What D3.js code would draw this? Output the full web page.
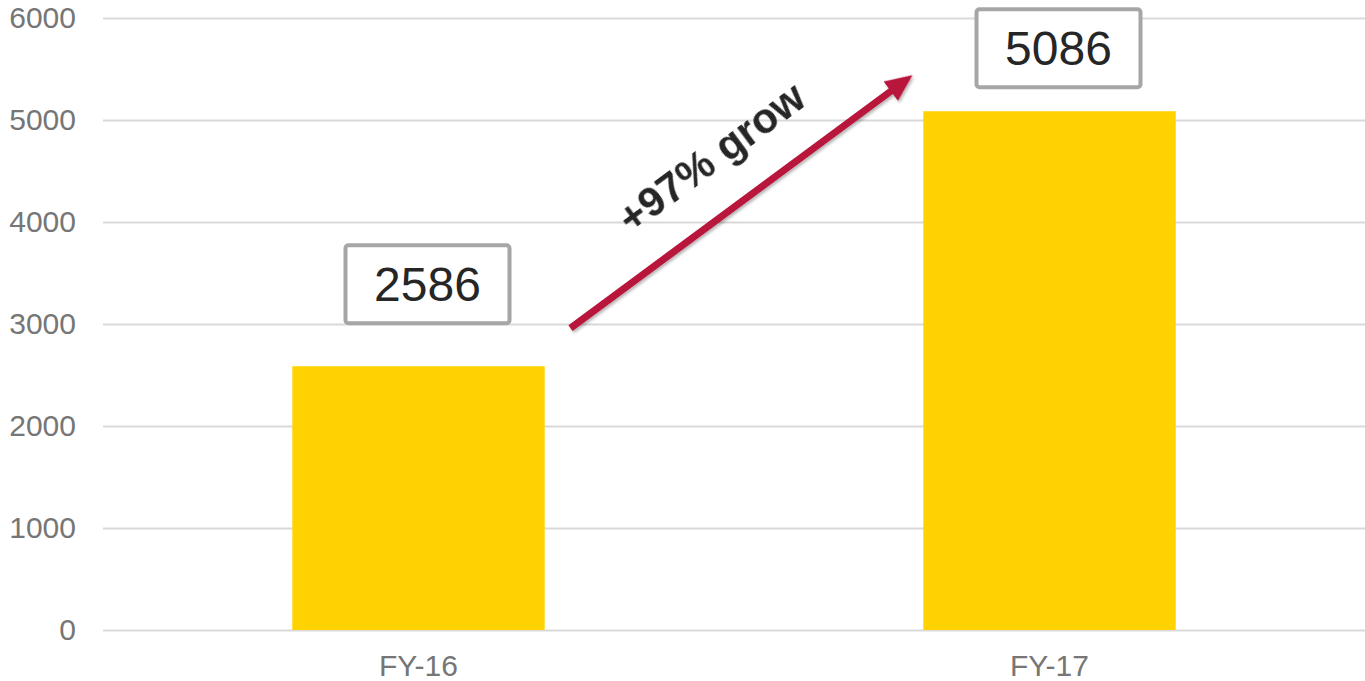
<!DOCTYPE html>
<html>
<head>
<meta charset="utf-8">
<script src="https://cdn.jsdelivr.net/npm/d3@7"></script>
<style>
  html, body { margin: 0; padding: 0; background: #fff; }
  svg { display: block; font-family: "Liberation Sans", Arial, sans-serif; }
</style>
</head>
<body>
<div id="graph"></div>
<script>
// values
const years = ["FY-16", "FY-17"];
const revenue = [2586, 5086];
const yTicks = [0, 1000, 2000, 3000, 4000, 5000, 6000];
const growthLabel = "+97% grow";

let width = 1365;
let height = 681;

let margin = { top: 18, right: 0, bottom: 51, left: 103 };

let svg = d3.select("#graph")
    .append("svg")
    .attr("width", width)
    .attr("height", height)
    .attr("viewBox", [0, 0, width, height]);

let xScale = d3.scaleBand()
    .domain(years)
    .range([margin.left, width - margin.right])
    .paddingInner(0.6)
    .paddingOuter(0.3);

let yScale = d3.scaleLinear()
    .domain([0, 6000])
    .range([height - margin.bottom, margin.top]);

// gridlines + y labels
let yAxis = svg.append("g")
    .attr("transform", "translate(" + margin.left + ",0)")
    .call(d3.axisLeft(yScale)
        .tickValues(yTicks)
        .tickSize(-(width - margin.left - margin.right))
        .tickPadding(27)
        .tickFormat(d3.format("d")));

yAxis.select(".domain").remove();
yAxis.selectAll(".tick line")
    .attr("stroke", "#d9d9d9")
    .attr("stroke-width", 2);
yAxis.selectAll(".tick text")
    .attr("fill", "#767676")
    .attr("font-size", "30px")
    .attr("font-family", "Liberation Sans, Arial, sans-serif");

// x labels
let xAxis = svg.append("g")
    .attr("transform", "translate(0," + (height - margin.bottom) + ")")
    .call(d3.axisBottom(xScale).tickSize(0).tickPadding(25));

xAxis.select(".domain").remove();
xAxis.selectAll(".tick text")
    .attr("fill", "#767676")
    .attr("font-size", "30px")
    .attr("font-family", "Liberation Sans, Arial, sans-serif");

// bars
svg.selectAll(".bar")
    .data(revenue)
    .enter().append("rect")
    .attr("class", "bar")
    .attr("x", (d, i) => xScale(years[i]))
    .attr("y", d => yScale(d))
    .attr("width", xScale.bandwidth())
    .attr("height", d => yScale(0) - yScale(d))
    .attr("fill", "#ffd200");

// boxed value labels (placed by hand in the original, lifted above each bar)
const boxLift = [82, 63];
const boxShift = 9;

let boxes = svg.selectAll(".valbox")
    .data(revenue)
    .enter().append("g")
    .attr("class", "valbox")
    .attr("transform", (d, i) => "translate(" +
        (xScale(years[i]) + xScale.bandwidth() / 2 + boxShift) + "," +
        (yScale(d) - boxLift[i]) + ")");

boxes.append("rect")
    .attr("x", -82)
    .attr("y", -39)
    .attr("width", 164)
    .attr("height", 78)
    .attr("rx", 3)
    .attr("fill", "#fff")
    .attr("stroke", "#a6a6a6")
    .attr("stroke-width", 4);

boxes.append("text")
    .attr("text-anchor", "middle")
    .attr("dy", "0.35em")
    .attr("font-size", "48px")
    .attr("fill", "#262626")
    .text(d => d);

// growth arrow
let defs = svg.append("defs");
let shadow = defs.append("filter")
    .attr("id", "shadow")
    .attr("x", "-20%").attr("y", "-20%")
    .attr("width", "140%").attr("height", "140%");
shadow.append("feDropShadow")
    .attr("dx", 1.5).attr("dy", 2)
    .attr("stdDeviation", 1.5)
    .attr("flood-color", "#000")
    .attr("flood-opacity", 0.3);

let x0 = xScale(years[0]) + xScale.bandwidth() / 2 + 152;
let y0 = yScale(2960);
let x1 = xScale(years[1]) + xScale.bandwidth() / 2 - 137;
let y1 = yScale(5440);
let ang = Math.atan2(y1 - y0, x1 - x0);
let headLen = 27, headHalf = 12;

let arrow = svg.append("g").attr("filter", "url(#shadow)");

arrow.append("line")
    .attr("x1", x0)
    .attr("y1", y0)
    .attr("x2", x1 - Math.cos(ang) * (headLen - 2))
    .attr("y2", y1 - Math.sin(ang) * (headLen - 2))
    .attr("stroke", "#b8123a")
    .attr("stroke-width", 7);

arrow.append("path")
    .attr("d", "M0,0 L" + (-headLen) + "," + (-headHalf) + " L" + (-headLen) + "," + headHalf + " Z")
    .attr("transform", "translate(" + x1 + "," + y1 + ") rotate(" + (ang * 180 / Math.PI) + ")")
    .attr("fill", "#b8123a");

// growth label
svg.append("text")
    .attr("transform", "translate(711,157) rotate(" + (ang * 180 / Math.PI) + ")")
    .attr("text-anchor", "middle")
    .attr("dy", "0.35em")
    .attr("font-size", "42px")
    .attr("font-weight", "bold")
    .attr("fill", "#262626")
    .text(growthLabel);
</script>
</body>
</html>
